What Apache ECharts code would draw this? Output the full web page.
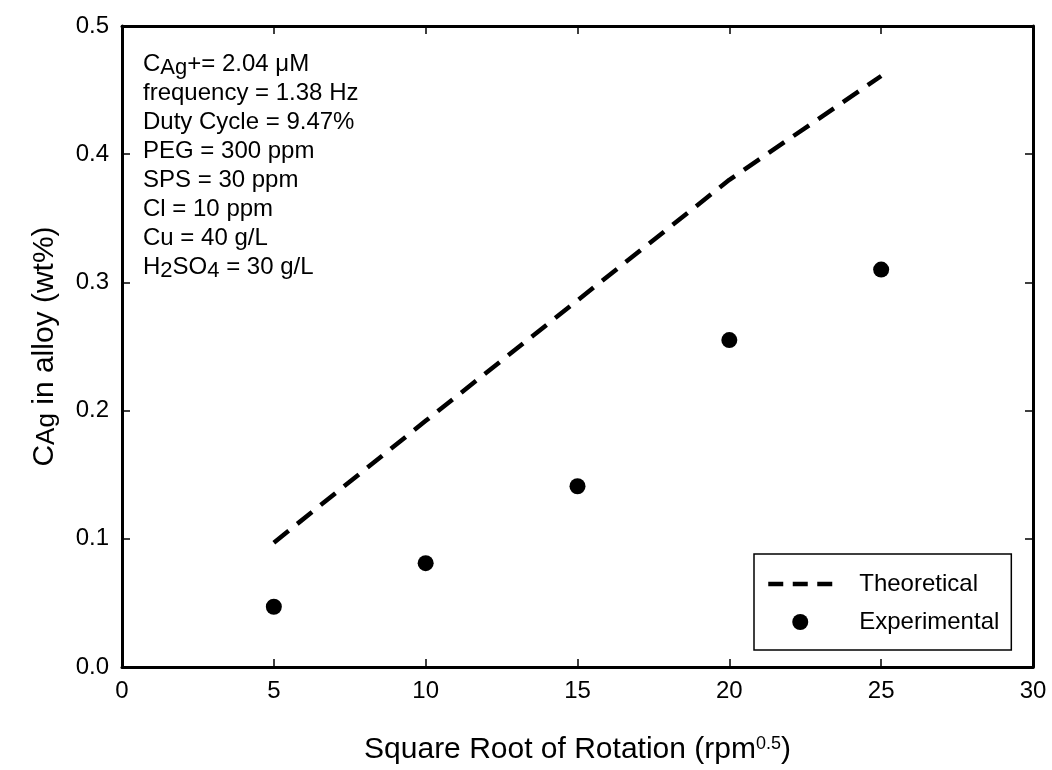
<!DOCTYPE html>
<html>
<head>
<meta charset="utf-8">
<script src="https://cdn.jsdelivr.net/npm/echarts@6/dist/echarts.min.js"></script>
<style>
  html, body { margin: 0; padding: 0; background: #fff; }
  #chart { width: 1052px; height: 770px; }
</style>
</head>
<body>
<div id="chart"></div>
<script>
// Rotation rate (square root, rpm^0.5) and Ag content of the deposit (wt%)
const rotation = [5, 10, 15, 20, 25];
const theoretical = [0.097, 0.192, 0.286, 0.380, 0.461];
const experimental = [0.047, 0.081, 0.141, 0.255, 0.310];

const xTicks = [0, 5, 10, 15, 20, 25, 30];
const yTicks = [0.0, 0.1, 0.2, 0.3, 0.4, 0.5];

const seriesNames = ['Theoretical', 'Experimental'];

// Bath / waveform conditions listed in the upper-left corner
const conditions = [
  'C{s|Ag}+= 2.04 \u03bcM',
  'frequency = 1.38 Hz',
  'Duty Cycle = 9.47%',
  'PEG = 300 ppm',
  'SPS = 30 ppm',
  'Cl = 10 ppm',
  'Cu = 40 g/L',
  'H{s|2}SO{s|4} = 30 g/L'
];

const FONT = '"Liberation Sans", Arial, Helvetica, sans-serif';
const toPairs = (xs, ys) => xs.map((x, i) => [x, ys[i]]);

const chart = echarts.init(document.getElementById('chart'), null, { renderer: 'canvas' });

const axisLine = () => ({ show: true, onZero: false, lineStyle: { color: '#000', width: 3 } });
const axisTick = () => ({ show: true, inside: true, length: 8, lineStyle: { color: '#000', width: 1.5 } });

// frame axes: same scale as the main axes, ticks only
const mirrorX = {
  type: 'value', gridIndex: 0, show: true,
  min: xTicks[0], max: xTicks[xTicks.length - 1], interval: 5,
  position: 'top',
  axisLine: axisLine(), axisTick: axisTick(),
  splitLine: { show: false }, axisLabel: { show: false }
};
const mirrorY = {
  type: 'value', gridIndex: 0, show: true,
  min: yTicks[0], max: yTicks[yTicks.length - 1], interval: 0.1,
  position: 'right',
  axisLine: axisLine(), axisTick: axisTick(),
  splitLine: { show: false }, axisLabel: { show: false }
};

chart.setOption({
  backgroundColor: '#fff',
  animation: false,
  grid: { left: 122, right: 19, top: 26, bottom: 103, containLabel: false },
  xAxis: [
    {
      type: 'value', gridIndex: 0,
      min: xTicks[0], max: xTicks[xTicks.length - 1], interval: 5,
      position: 'bottom',
      axisLine: axisLine(), axisTick: axisTick(),
      splitLine: { show: false },
      axisLabel: { color: '#000', fontFamily: FONT, fontSize: 24, margin: 12 },
      name: 'Square Root of Rotation (rpm{p|0.5})',
      nameLocation: 'middle',
      nameGap: 68,
      nameTextStyle: {
        color: '#000', fontFamily: FONT, fontSize: 30,
        rich: { p: { fontFamily: FONT, fontSize: 18, lineHeight: 14, verticalAlign: 'top', color: '#000' } }
      }
    },
    mirrorX
  ],
  yAxis: [
    {
      type: 'value', gridIndex: 0,
      min: yTicks[0], max: yTicks[yTicks.length - 1], interval: 0.1,
      position: 'left',
      axisLine: axisLine(), axisTick: axisTick(),
      splitLine: { show: false },
      axisLabel: {
        color: '#000', fontFamily: FONT, fontSize: 24, margin: 13,
        formatter: v => v.toFixed(1)
      },
      name: 'C{s|Ag} in alloy (wt%)',
      nameLocation: 'middle',
      nameRotate: 90,
      nameGap: 62,
      nameTextStyle: {
        color: '#000', fontFamily: FONT, fontSize: 30,
        rich: { s: { fontFamily: FONT, fontSize: 26, lineHeight: 18, verticalAlign: 'bottom', color: '#000' } }
      }
    },
    mirrorY
  ],
  legend: {
    orient: 'vertical',
    left: 754,
    top: 554,
    padding: [18, 12, 16, 12],
    itemGap: 14,
    itemWidth: 64,
    itemHeight: 16,
    borderColor: '#000',
    borderWidth: 1.5,
    textStyle: { color: '#000', fontFamily: FONT, fontSize: 24, lineHeight: 16, padding: [0, 0, 0, 22] },
    data: [
      {
        name: seriesNames[0],
        itemStyle: { opacity: 0 },
        lineStyle: { type: [15, 9.5], width: 4.5, color: '#000', cap: 'butt', opacity: 1 }
      },
      { name: seriesNames[1], icon: 'circle', itemStyle: { color: '#000', opacity: 1 } }
    ]
  },
  graphic: [
    {
      type: 'text',
      left: 143,
      top: 50,
      style: {
        text: conditions.join('\n'),
        fill: '#000',
        fontFamily: FONT,
        fontSize: 24,
        lineHeight: 29,
        rich: {
          s: { fontFamily: FONT, fontSize: 22, lineHeight: 15, verticalAlign: 'bottom', fill: '#000' }
        }
      }
    }
  ],
  series: [
    {
      name: seriesNames[0],
      type: 'line',
      xAxisIndex: 0, yAxisIndex: 0,
      data: toPairs(rotation, theoretical),
      showSymbol: false,
      symbol: 'none',
      lineStyle: { color: '#000', width: 4.5, type: [19, 11], cap: 'butt' },
      itemStyle: { color: '#000' },
      z: 3
    },
    {
      name: seriesNames[1],
      type: 'scatter',
      xAxisIndex: 0, yAxisIndex: 0,
      data: toPairs(rotation, experimental),
      symbol: 'circle',
      symbolSize: 16,
      itemStyle: { color: '#000', opacity: 1 },
      z: 4
    },
    // empty series keeps the frame axes active
    { type: 'scatter', xAxisIndex: 1, yAxisIndex: 1, data: [], silent: true }
  ]
});
</script>
</body>
</html>
